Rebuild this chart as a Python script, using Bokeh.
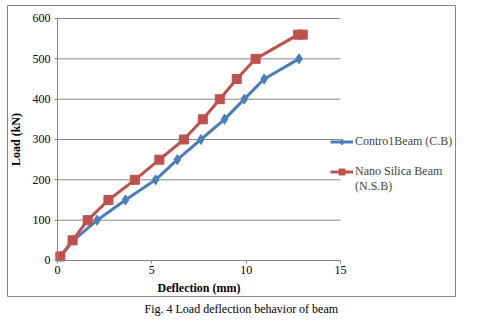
from bokeh.plotting import figure
from bokeh.models import Range1d, Legend, LegendItem, Title, FixedTicker, LinearAxis
from bokeh.embed import file_html
from bokeh.resources import INLINE

# Data
deflection_cb = [0.15, 0.85, 2.1, 3.6, 5.2, 6.35, 7.6, 8.85, 9.9, 10.95, 12.8]
load_cb = [10, 50, 100, 150, 200, 250, 300, 350, 400, 450, 500]
deflection_nsb = [0.15, 0.8, 1.6, 2.7, 4.1, 5.4, 6.7, 7.7, 8.6, 9.5, 10.5, 12.75, 13.0]
load_nsb = [10, 50, 100, 150, 200, 250, 300, 350, 400, 450, 500, 560, 560]
x_ticks = [0, 5, 10, 15]
y_ticks = [0, 100, 200, 300, 400, 500, 600]
legend_rows = ["Contro1Beam (C.B)", "", "Nano Silica Beam", "(N.S.B)"]
x_title = "Deflection (mm)"
y_title = "Load (kN)"
caption = "Fig. 4 Load deflection behavior of beam"

FONT = "Liberation Serif"
GRAY = "#868686"
BLUE = "#4A7EBB"
RED = "#C0504D"

# The frame is the outer chart box; the plot area sits inside it.
p = figure(width=487, height=323, output_backend="svg", toolbar_location=None,
           x_range=Range1d(-2.650, 21.095), y_range=Range1d(-89.26, 632.23),
           x_axis_type=None, y_axis_type=None,
           min_border_left=7, min_border_right=32, min_border_top=5, min_border_bottom=27)
p.outline_line_color = GRAY
p.outline_line_width = 1
p.background_fill_color = "white"
p.border_fill_color = "white"
p.grid.visible = False

xaxis = LinearAxis(fixed_location=0, bounds=(x_ticks[0], x_ticks[-1]),
                   ticker=FixedTicker(ticks=x_ticks), axis_label=x_title)
yaxis = LinearAxis(fixed_location=0, bounds=(y_ticks[0], y_ticks[-1]),
                   ticker=FixedTicker(ticks=y_ticks), axis_label=y_title)
for ax in (xaxis, yaxis):
    ax.axis_line_color = GRAY
    ax.major_tick_line_color = GRAY
    ax.major_tick_in = 0
    ax.major_tick_out = 3
    ax.minor_tick_line_color = None
    ax.major_label_text_font = FONT
    ax.major_label_text_font_size = "12px"
    ax.major_label_text_color = "black"
    ax.axis_label_text_font = FONT
    ax.axis_label_text_font_size = "12px"
    ax.axis_label_text_font_style = "bold"
    ax.axis_label_text_color = "black"
xaxis.major_label_standoff = 3
xaxis.axis_label_standoff = 3
yaxis.major_label_standoff = 4
yaxis.axis_label_standoff = 7
p.add_layout(xaxis, "below")
p.add_layout(yaxis, "left")

# Horizontal gridlines across the plot area only
grid_y = [t for t in y_ticks if t > 0]
p.segment(x0=[x_ticks[0]] * len(grid_y), x1=[x_ticks[-1]] * len(grid_y),
          y0=grid_y, y1=grid_y, line_color=GRAY, line_width=1)

l1 = p.line(deflection_cb, load_cb, line_color=BLUE, line_width=3)
m1 = p.scatter(deflection_cb, load_cb, marker="diamond", size=10, color=BLUE)
l2 = p.line(deflection_nsb, load_nsb, line_color=RED, line_width=3)
m2 = p.scatter(deflection_nsb, load_nsb, marker="square", size=9, color=RED)

legend = Legend(items=[LegendItem(label=legend_rows[0], renderers=[l1, m1]),
                       LegendItem(label=legend_rows[1], renderers=[]),
                       LegendItem(label=legend_rows[2], renderers=[l2, m2]),
                       LegendItem(label=legend_rows[3], renderers=[])],
                location=(323, 102))
legend.border_line_color = None
legend.background_fill_alpha = 0
legend.padding = 0
legend.margin = 0
legend.spacing = 0
legend.glyph_width = 23
legend.glyph_height = 15
legend.label_standoff = 2
legend.label_text_font = FONT
legend.label_text_font_size = "12px"
legend.label_height = 15
p.add_layout(legend, "center")

p.add_layout(Title(text=caption, align="left", offset=137, standoff=7,
                   text_font=FONT, text_font_size="12px", text_font_style="normal",
                   text_color="black"), "below")

open("out.html", "w").write(file_html(p, INLINE))
